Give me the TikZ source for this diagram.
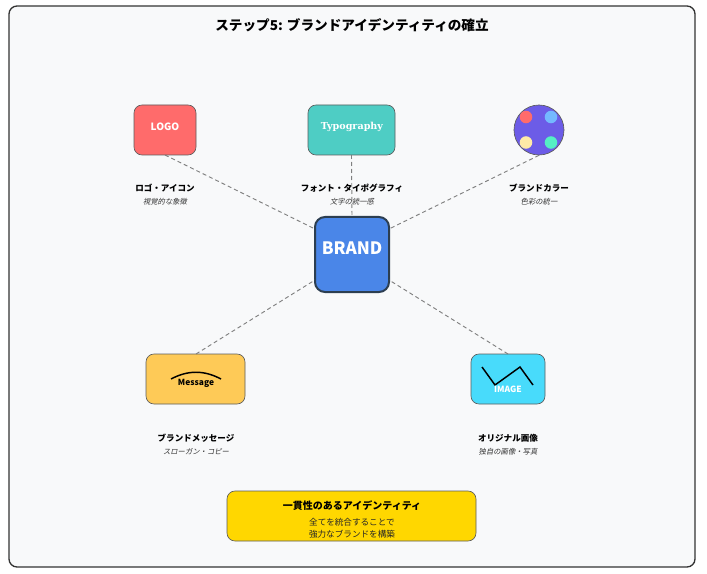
\documentclass[tikz,border=0pt]{standalone}
\usepackage{fontspec}
\setmainfont{Noto Sans CJK JP}
\newfontfamily\slantjp[FakeSlant=0.2]{Noto Sans CJK JP}
\newfontfamily\serifbold{DejaVu Serif}
\definecolor{framefill}{HTML}{F8F9FA}
\definecolor{framedraw}{HTML}{333333}
\definecolor{logofill}{HTML}{FF6B6B}
\definecolor{typofill}{HTML}{4ECDC4}
\definecolor{colorfill}{HTML}{6C5CE7}
\definecolor{msgfill}{HTML}{FECA57}
\definecolor{imgfill}{HTML}{48DBFB}
\definecolor{brandfill}{HTML}{4A86E8}
\definecolor{branddraw}{HTML}{2C3E50}
\definecolor{goldfill}{HTML}{FFD700}
\tikzset{
    card/.style={draw=framedraw!80, line width=0.5pt, rounded corners=6pt, inner sep=0pt, outer sep=0pt},
    link/.style={draw=gray, line width=0.7pt, dash pattern=on 3pt off 2.25pt},
    mark line/.style={line width=1.1pt, black},
    head/.style={font=\fontsize{6.4pt}{8pt}\selectfont\bfseries, inner sep=0pt},
    sub/.style={font=\fontsize{5.5pt}{8pt}\slantjp, text=black!80, inner sep=0pt}
}
\begin{document}
\begin{tikzpicture}[x=0.75pt, y=-0.75pt]
            \useasboundingbox (0, 0) rectangle (707, 574);
            \draw[fill=framefill, draw=framedraw, line width=1pt, rounded corners=6pt] (9, 6) rectangle (695, 567);
            \node[inner sep=0pt, font=\fontsize{10.2pt}{12pt}\selectfont\bfseries] (title) at (352, 25) {ステップ5: ブランドアイデンティティの確立};

            \node[card, fill=logofill, minimum width=46.5pt, minimum height=37.5pt] (logo) at (165, 130) {};
            \node[card, fill=typofill, minimum width=65.25pt, minimum height=37.5pt] (typo) at (351.5, 130) {};
            \node[draw=framedraw!80, line width=0.5pt, fill=colorfill, circle, inner sep=0pt, minimum size=37.5pt] (palette) at (539, 130) {};
            \node[card, fill=msgfill, minimum width=74.25pt, minimum height=37.5pt] (msg) at (195.5, 379) {};
            \node[card, fill=imgfill, minimum width=55.5pt, minimum height=37.5pt] (img) at (508, 379) {};
            \node[card, draw=branddraw, line width=1.5pt, rounded corners=7.5pt, fill=brandfill, minimum width=55.5pt, minimum height=56.25pt] (brand) at (352, 254.5) {};

            \coordinate (bnw) at (315, 229);
            \coordinate (bne) at (389, 229);
            \coordinate (bsw) at (315, 280);
            \coordinate (bse) at (389, 280);
            \coordinate (msgtop) at (196, 354);
            \draw[link] (logo.south) -- (bnw);
            \draw[link] (typo.south) -- (brand.north);
            \draw[link] (palette.south) -- (bne);
            \draw[link] (msgtop) -- (bsw);
            \draw[link] (img.north) -- (bse);

            \node[inner sep=0pt, text=white, font=\fontsize{7.5pt}{9pt}\selectfont\bfseries] (logotext) at (165, 126.5) {LOGO};
            \node[inner sep=0pt, text=white, font=\fontsize{7.2pt}{9pt}\serifbold\bfseries] (typotext) at (352, 127) {Typography};
            \node[inner sep=0pt, text=white, font=\fontsize{12.8pt}{16pt}\selectfont\bfseries] (brandtext) at (352, 248.5) {BRAND};

            % dots on the palette
            \foreach \i/\x/\y/\c in {1/526/117/FF6B6B, 2/551/117/74B9FF, 3/526/142.5/FFEAA7, 4/551/142.5/55EFC4} {
                \definecolor{dotc}{HTML}{\c}
                \fill[dotc] (\x, \y) circle (4.7pt);
            }

            \draw[mark line] (171, 379) .. controls (188, 370) and (204, 370) .. (221, 379);
            \node[inner sep=0pt, font=\fontsize{6.3pt}{8pt}\selectfont\bfseries] (msgtext) at (196, 383) {Message};
            \draw[mark line] (482, 367) -- (495, 385) -- (520, 367) -- (533, 385);
            \node[inner sep=0pt, text=white, font=\fontsize{6.4pt}{8pt}\selectfont\bfseries] (imgtext) at (508, 389) {IMAGE};

            \foreach \i/\x/\y/\h/\s in {1/165/188.5/ロゴ・アイコン/視覚的な象徴,
                    2/352/188.5/フォント・タイポグラフィ/文字の統一感,
                    3/539/188.5/ブランドカラー/色彩の統一,
                    4/196/438.5/ブランドメッセージ/スローガン・コピー,
                    5/508/438.5/オリジナル画像/独自の画像・写真} {
                \node[head] (head\i) at (\x, \y) {\h};
                \node[sub] (sub\i) at (\x, \y+13.5) {\s};
            }

            \node[card, fill=goldfill, minimum width=186.75pt, minimum height=37.5pt] (goal) at (351.5, 516) {};
            \node[inner sep=0pt, font=\fontsize{7.5pt}{9pt}\selectfont\bfseries] (goalhead) at (352, 506) {一貫性のあるアイデンティティ};
            \node[inner sep=0pt, text=black!85, font=\fontsize{6.45pt}{8pt}\selectfont] (goalone) at (352, 522) {全てを統合することで};
            \node[inner sep=0pt, text=black!85, font=\fontsize{6.45pt}{8pt}\selectfont] (goaltwo) at (352, 534) {強力なブランドを構築};
        \end{tikzpicture}
\end{document}
